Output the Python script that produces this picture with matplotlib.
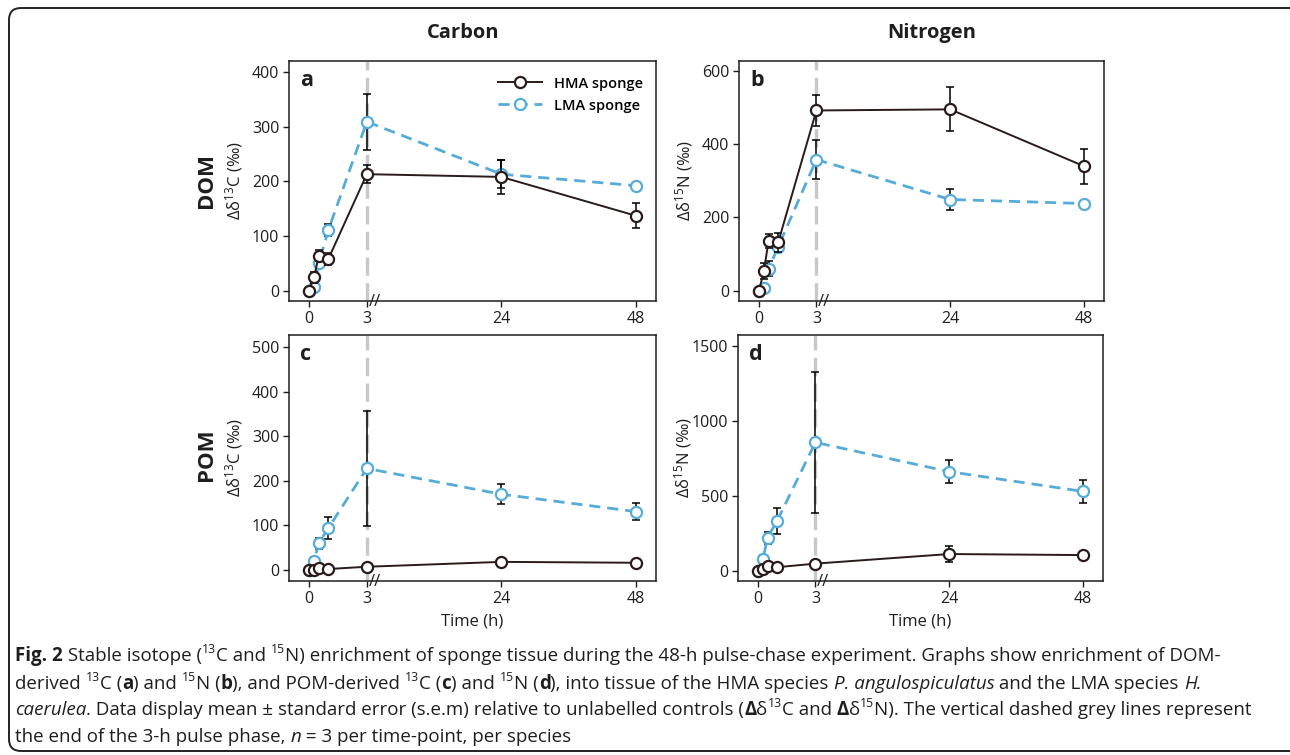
import matplotlib
matplotlib.use("Agg")
import matplotlib.pyplot as plt
import matplotlib.transforms as mtransforms
from matplotlib.patches import FancyBboxPatch
import numpy as np

# Données ---------------------------------------------------------------

temps = [0, 0.25, 0.5, 1, 3, 24, 48]          # heures
ticks_temps = [0, 3, 24, 48]
ticks_labels = ["0", "3", "24", "48"]

# a : DOM, carbone
dom_c_hma = [0, 24, 64, 58, 213, 208, 137]
dom_c_hma_err = [0, 10, 10, 11, 17, 31, 23]
dom_c_lma = [0, 7, 50, 111, 309, 213, 192]
dom_c_lma_err = [0, 4, 8, 11, 51, 25, 4]

# b : DOM, azote
dom_n_hma = [0, 54, 136, 132, 492, 495, 340]
dom_n_hma_err = [0, 22, 20, 25, 42, 60, 48]
dom_n_lma = [0, 7, 60, 120, 358, 249, 238]
dom_n_lma_err = [0, 5, 20, 15, 53, 28, 4]

# c : POM, carbone
pom_c_hma = [0, 0, 4, 2, 7, 18, 16]
pom_c_hma_err = [0, 1, 2, 2, 3, 4, 3]
pom_c_lma = [0, 20, 60, 94, 228, 170, 131]
pom_c_lma_err = [0, 8, 12, 24, 129, 23, 19]

# d : POM, azote
pom_n_hma = [0, 11, 31, 22, 46, 110, 103]
pom_n_hma_err = [0, 5, 8, 8, 10, 55, 8]
pom_n_lma = [0, 75, 220, 332, 855, 660, 528]
pom_n_lma_err = [0, 30, 40, 86, 470, 78, 75]

# Style -------------------------------------------------------------------

plt.rcParams["font.family"] = ["Open Sans", "DejaVu Sans"]
plt.rcParams["mathtext.fontset"] = "custom"
plt.rcParams["mathtext.rm"] = "Open Sans"
plt.rcParams["mathtext.it"] = "Open Sans:italic"
plt.rcParams["mathtext.bf"] = "Open Sans:bold"

col_hma = "#2b1a1a"
col_lma = "#55acd9"
col_txt = "#1e1e1e"

W, H = 1290, 755
fig = plt.figure(figsize=(W / 100, H / 100), dpi=100)


def rect(left, top, right, bottom):
    # pixels -> fractions de figure
    return [left / W, 1 - bottom / H, (right - left) / W, (bottom - top) / H]


def pos(t):
    # axe coupé : 0-3 h étiré, puis 24 et 48 h
    return np.interp(t, [0, 3, 24, 48], [0, 3, 10, 17])


ax_a = fig.add_axes(rect(289, 61, 656, 301))
ax_b = fig.add_axes(rect(739, 61, 1104, 301))
ax_c = fig.add_axes(rect(289, 335, 656, 581))
ax_d = fig.add_axes(rect(738, 335, 1103, 581))

panneaux = [
    (ax_a, dom_c_hma, dom_c_hma_err, dom_c_lma, dom_c_lma_err, (-19, 420), [0, 100, 200, 300, 400], "Δδ$^{13}$C (‰)", "a"),
    (ax_b, dom_n_hma, dom_n_hma_err, dom_n_lma, dom_n_lma_err, (-28, 627), [0, 200, 400, 600], "Δδ$^{15}$N (‰)", "b"),
    (ax_c, pom_c_hma, pom_c_hma_err, pom_c_lma, pom_c_lma_err, (-25, 528), [0, 100, 200, 300, 400, 500], "Δδ$^{13}$C (‰)", "c"),
    (ax_d, pom_n_hma, pom_n_hma_err, pom_n_lma, pom_n_lma_err, (-70, 1572), [0, 500, 1000, 1500], "Δδ$^{15}$N (‰)", "d"),
]

x = pos(temps)
for ax, hma, hma_err, lma, lma_err, ylim, yticks, ylab, lettre in panneaux:
    ax.axvline(3, color="#c8c8c8", lw=2.4, linestyle=(0, (5.5, 2.2)), zorder=1)

    ax.errorbar(x, lma, yerr=lma_err, fmt="none", ecolor="black", elinewidth=1.1, capsize=3, capthick=1.1, zorder=2)
    ax.plot(x, lma, color=col_lma, lw=2, linestyle=(0, (4, 2.5)), marker="o", ms=8,
            mfc="white", mec=col_lma, mew=1.6, label="LMA sponge", zorder=3)
    ax.errorbar(x, hma, yerr=hma_err, fmt="none", ecolor="black", elinewidth=1.1, capsize=3, capthick=1.1, zorder=4)
    ax.plot(x, hma, color=col_hma, lw=1.4, marker="o", ms=8,
            mfc="white", mec=col_hma, mew=1.6, label="HMA sponge", zorder=5)

    ax.set_xlim(-1.05, 18.05)
    ax.set_ylim(*ylim)
    ax.set_xticks(pos(ticks_temps))
    ax.set_xticklabels(ticks_labels)
    ax.set_yticks(yticks)
    ax.tick_params(direction="out", length=4, width=1, labelsize=11.5, colors=col_txt, pad=3)
    for s in ax.spines.values():
        s.set_linewidth(1.1)
        s.set_color(col_txt)

    ax.set_ylabel(ylab, fontsize=12, color=col_txt)
    ax.yaxis.set_label_coords(-0.12, 0.5)

    ax.text(0.03, 0.92, lettre, transform=ax.transAxes, fontsize=15.5, fontweight="bold",
            ha="left", va="center", color=col_txt)

    # marque de coupure de l'axe
    trans = mtransforms.blended_transform_factory(ax.transData, ax.transAxes)
    ax.text(3.42, -0.005, "//", transform=trans, fontsize=12, ha="center", va="center",
            color=col_txt, clip_on=False)

for ax in (ax_c, ax_d):
    ax.set_xlabel("Time (h)", fontsize=12, color=col_txt, labelpad=5)

h, l = ax_a.get_legend_handles_labels()
ax_a.legend(h[::-1], l[::-1], loc="upper right", bbox_to_anchor=(1.0, 0.99), frameon=False,
            handlelength=3, labelspacing=0.55, prop={"size": 10.5, "weight": "semibold"})

fig.text(463 / W, 1 - 33 / H, "Carbon", fontsize=14.5, fontweight="bold", ha="center", va="center", color=col_txt)
fig.text(932 / W, 1 - 33 / H, "Nitrogen", fontsize=14.5, fontweight="bold", ha="center", va="center", color=col_txt)
fig.text(206 / W, 1 - 181 / H, "DOM", fontsize=16, fontweight="bold", rotation=90, ha="center", va="center", color=col_txt)
fig.text(206 / W, 1 - 455 / H, "POM", fontsize=16, fontweight="bold", rotation=90, ha="center", va="center", color=col_txt)

# Légende de la figure ---------------------------------------------------

lignes = [
    [("Fig. 2", "b"), (" Stable isotope (", "n"), ("13", "s"), ("C and ", "n"), ("15", "s"),
     ("N) enrichment of sponge tissue during the 48-h pulse-chase experiment. Graphs show enrichment of DOM-", "n")],
    [("derived ", "n"), ("13", "s"), ("C (", "n"), ("a", "b"), (") and ", "n"), ("15", "s"), ("N (", "n"), ("b", "b"),
     ("), and POM-derived ", "n"), ("13", "s"), ("C (", "n"), ("c", "b"), (") and ", "n"), ("15", "s"), ("N (", "n"),
     ("d", "b"), ("), into tissue of the HMA species ", "n"), ("P. angulospiculatus", "i"),
     (" and the LMA species ", "n"), ("H.", "i")],
    [("caerulea", "i"), (". Data display mean ± standard error (s.e.m) relative to unlabelled controls (", "n"),
     ("Δ", "b"), ("δ", "n"), ("13", "s"), ("C and ", "n"), ("Δ", "b"), ("δ", "n"), ("15", "s"),
     ("N). The vertical dashed grey lines represent", "n")],
    [("the end of the 3-h pulse phase, ", "n"), ("n", "i"), (" = 3 per time-point, per species", "n")],
]
bases = [661, 689, 715, 742]
fins = [1262, 1250, 1250, 720]       # bord droit de chaque ligne dans l'original

renderer = fig.canvas.get_renderer()


def largeur(txt, **kw):
    # largeur en pixels, espaces compris
    t1 = fig.text(0, 0, "|" + txt + "|", **kw)
    t2 = fig.text(0, 0, "||", **kw)
    w = t1.get_window_extent(renderer).width - t2.get_window_extent(renderer).width
    t1.remove()
    t2.remove()
    return w


def style(sty, taille):
    kw = dict(fontsize=taille, color=col_txt)
    if sty == "b":
        kw["fontweight"] = "bold"
    if sty == "i":
        kw["fontstyle"] = "italic"
    if sty == "s":
        kw["fontsize"] = taille * 0.65
    return kw


def dessine(runs, x0, yb, taille, tracer=True):
    xx = x0
    for txt, sty in runs:
        kw = style(sty, taille)
        w = largeur(txt, **kw)
        if tracer:
            dy = taille * 0.42 * 100 / 72 if sty == "s" else 0
            fig.text(xx / W, 1 - (yb - dy) / H, txt, ha="left", va="baseline", **kw)
        xx += w
    return xx - x0


taille = 12
ech = min((fin - 15) / dessine(runs, 15, yb, taille, tracer=False)
          for runs, yb, fin in zip(lignes[:3], bases, fins))
taille = taille * ech
for runs, yb in zip(lignes, bases):
    dessine(runs, 15, yb, taille)

cadre = FancyBboxPatch((0.09, 0.04), 13.1, 7.43, boxstyle="round,pad=0,rounding_size=0.12",
                       transform=fig.dpi_scale_trans, fill=False, lw=1.4, ec="#222222")
fig.add_artist(cadre)

fig.savefig("out.png", dpi=100)
